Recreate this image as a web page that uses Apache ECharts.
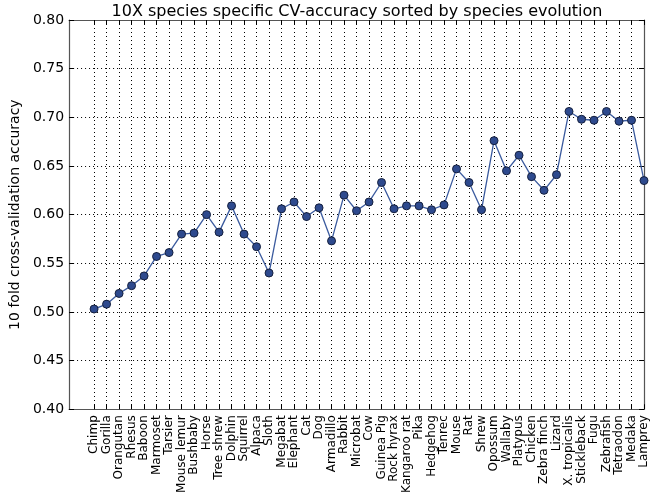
<!DOCTYPE html>
<html>
<head>
<meta charset="utf-8">
<script src="https://cdn.jsdelivr.net/npm/echarts@6/dist/echarts.min.js"></script>
<style>html,body{margin:0;padding:0;background:#fff;}#c{width:650px;height:496px;}</style>
</head>
<body>
<div id="c"></div>
<script>
const species = ["Chimp","Gorilla","Orangutan","Rhesus","Baboon","Marmoset","Tarsier","Mouse lemur","Bushbaby","Horse","Tree shrew","Dolphin","Squirrel","Alpaca","Sloth","Megabat","Elephant","Cat","Dog","Armadillo","Rabbit","Microbat","Cow","Guinea Pig","Rock hyrax","Kangaroo rat","Pika","Hedgehog","Tenrec","Mouse","Rat","Shrew","Opossum","Wallaby","Platypus","Chicken","Zebra finch","Lizard","X. tropicalis","Stickleback","Fugu","Zebrafish","Tetraodon","Medaka","Lamprey"];
const accuracy = [0.503,0.508,0.519,0.527,0.537,0.557,0.561,0.580,0.581,0.600,0.582,0.609,0.580,0.567,0.540,0.606,0.613,0.598,0.607,0.573,0.620,0.604,0.613,0.633,0.606,0.609,0.609,0.605,0.610,0.647,0.633,0.605,0.676,0.645,0.661,0.639,0.625,0.641,0.706,0.698,0.697,0.706,0.696,0.697,0.635];
const yTicks = [0.40,0.45,0.50,0.55,0.60,0.65,0.70,0.75,0.80];

// two empty slots on the left of the first species (as in the original x-limits)
const pads = ['__pad1', '__pad2'];
const cats = pads.concat(species);
const isReal = (i, v) => pads.indexOf(v) < 0;
const font = 'DejaVu Sans';
const chart = echarts.init(document.getElementById('c'), null, {renderer: 'canvas'});
const frame = {show: true, onZero: false, lineStyle: {color: '#555', width: 1.2}};
chart.setOption({
  animation: false,
  backgroundColor: '#fff',
  title: {
    text: '10X species specific CV-accuracy sorted by species evolution',
    left: 352, top: -1, textAlign: 'center',
    textStyle: {fontFamily: font, fontSize: 16, fontWeight: 'normal', color: '#000'}
  },
  grid: {left: 60, right: 6, top: 20, bottom: 83, containLabel: false},
  xAxis: [{
    type: 'category', data: cats, boundaryGap: false,
    axisLine: frame,
    axisTick: {show: true, inside: true, length: 5, interval: isReal, lineStyle: {color: '#000'}},
    axisLabel: {
      interval: isReal, rotate: 90, margin: 6,
      fontFamily: font, fontSize: 12, color: '#000',
      formatter: v => (pads.indexOf(v) < 0 ? v : '')
    },
    splitLine: {show: true, interval: isReal, lineStyle: {color: '#000', type: [1, 3], width: 1}}
  }, {
    type: 'category', data: cats, boundaryGap: false, position: 'top',
    axisLine: frame,
    axisTick: {show: true, inside: true, length: 5, interval: isReal, lineStyle: {color: '#000'}},
    axisLabel: {show: false},
    splitLine: {show: false}
  }],
  yAxis: [{
    type: 'value', min: 0.40, max: 0.80, interval: 0.05,
    name: '10 fold cross-validation accuracy', nameLocation: 'middle', nameGap: 43,
    nameTextStyle: {fontFamily: font, fontSize: 14, color: '#000'},
    axisLine: frame,
    axisTick: {show: true, inside: true, length: 5, lineStyle: {color: '#000'}},
    axisLabel: {fontFamily: font, fontSize: 14, color: '#000', margin: 5,
      formatter: v => yTicks.find(t => Math.abs(t - v) < 1e-9).toFixed(2)},
    splitLine: {show: true, lineStyle: {color: '#000', type: [1, 3], width: 1}}
  }, {
    type: 'value', position: 'right', min: 0.40, max: 0.80, interval: 0.05,
    axisLine: frame,
    axisTick: {show: true, inside: true, length: 5, lineStyle: {color: '#000'}},
    axisLabel: {show: false},
    splitLine: {show: false}
  }],
  series: [{
    type: 'line',
    data: species.map((s, i) => [s, accuracy[i]]),
    symbol: 'circle', symbolSize: 8,
    itemStyle: {color: '#2e4a8e', borderColor: '#16213f', borderWidth: 1},
    lineStyle: {color: '#3a5a9e', width: 1.3},
    clip: false
  }]
});
</script>
</body>
</html>
